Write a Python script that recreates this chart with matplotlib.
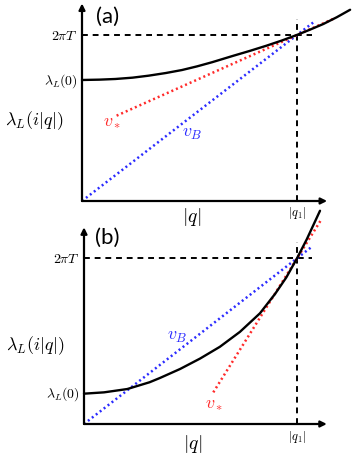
import matplotlib
matplotlib.use("Agg")
import matplotlib.pyplot as plt

plt.rcParams['mathtext.fontset'] = 'cm'

# ---------------- data (units: q1 = 1, 2*pi*T = 1) ----------------
# panel (a)
curve_a_q   = [0.0, 0.08, 0.155, 0.235, 0.310, 0.390, 0.465, 0.535, 0.605, 0.704,
               0.780, 0.859, 0.930, 0.999, 1.060, 1.122, 1.185, 1.247]
curve_a_lam = [0.729, 0.731, 0.735, 0.743, 0.755, 0.771, 0.789, 0.811, 0.836, 0.875,
               0.904, 0.936, 0.967, 1.0, 1.032, 1.066, 1.107, 1.152]
vstar_a_q   = [0.161, 1.170]
vstar_a_lam = [0.514, 1.098]
vB_a_q      = [0.0, 1.076]
vB_a_lam    = [0.0, 1.076]
lam0_a = 0.729

# panel (b)
curve_b_q   = [0.0, 0.094, 0.203, 0.308, 0.357, 0.451, 0.545, 0.638, 0.732, 0.826,
               0.897, 0.950, 1.0, 1.046, 1.108]
curve_b_lam = [0.183, 0.191, 0.211, 0.252, 0.278, 0.332, 0.395, 0.466, 0.556, 0.668,
               0.785, 0.885, 1.0, 1.115, 1.287]
vstar_b_q   = [0.607, 1.117]
vstar_b_lam = [0.191, 1.240]
vB_b_q      = [0.0, 1.070]
vB_b_lam    = [0.0, 1.070]
lam0_b = 0.187

q1 = 1.0
twopiT = 1.0
y_labels = [r'$2\pi T$', r'$\lambda_L(0)$']

W, H = 353, 456
fig = plt.figure(figsize=(W / 100, H / 100), dpi=100)
fig.patch.set_facecolor('white')

RED = '#ff2a2a'
BLUE = '#2b2bff'


def add_panel(ox, oy, sx, sy, xlim=(-0.02, 1.3), ylim=(-0.02, 1.3)):
    left = (ox + xlim[0] * sx) / W
    width = (xlim[1] - xlim[0]) * sx / W
    top_px = oy - ylim[1] * sy
    bottom_px = oy - ylim[0] * sy
    ax = fig.add_axes([left, 1 - bottom_px / H, width, (bottom_px - top_px) / H])
    ax.set_xlim(xlim)
    ax.set_ylim(ylim)
    ax.axis('off')
    return ax


def draw_panel(ax, cq, cl, vsq, vsl, vbq, vbl, lam0, xend, yend, hend, vend):
    # axes arrows
    ax.annotate('', xy=(xend, 0), xytext=(0, 0),
                arrowprops=dict(arrowstyle='-|>', lw=1.6, color='black',
                                mutation_scale=9, shrinkA=0, shrinkB=0),
                annotation_clip=False)
    ax.annotate('', xy=(0, yend), xytext=(0, 0),
                arrowprops=dict(arrowstyle='-|>', lw=1.6, color='black',
                                mutation_scale=9, shrinkA=0, shrinkB=0),
                annotation_clip=False)
    # dashed guides
    ax.plot([0, hend], [twopiT, twopiT], color='black', lw=1.4,
            linestyle=(0, (3, 2.5)), clip_on=False)
    ax.plot([q1, q1], [0, vend], color='black', lw=1.4,
            linestyle=(0, (3, 2.5)), clip_on=False)
    # dotted lines
    ax.plot(vbq, vbl, color=BLUE, lw=1.8, linestyle=(0, (0.8, 1.2)), clip_on=False)
    ax.plot(vsq, vsl, color=RED, lw=1.8, linestyle=(0, (0.8, 1.2)), clip_on=False)
    # curve
    ax.plot(cq, cl, color='black', lw=1.7, clip_on=False,
            solid_capstyle='round', solid_joinstyle='round')


def ftext(x, y, s, **kw):
    fig.text(x / W, 1 - y / H, s, **kw)


# panel (a)
axa = add_panel(82, 202, 215, 166)
draw_panel(axa, curve_a_q, curve_a_lam, vstar_a_q, vstar_a_lam, vB_a_q, vB_a_lam,
           lam0_a, 1.14, 1.19, 1.07, 1.096)

# panel (b)
axb = add_panel(84, 425, 213, 165.7)
draw_panel(axb, curve_b_q, curve_b_lam, vstar_b_q, vstar_b_lam, vB_b_q, vB_b_lam,
           lam0_b, 1.14, 1.187, 1.07, 1.098)

for ax, lam0 in [(axa, lam0_a), (axb, lam0_b)]:
    ax.text(-0.02, twopiT, y_labels[0], ha='right', va='center', fontsize=10)
    ax.text(-0.02, lam0, y_labels[1], ha='right', va='center', fontsize=10)

ftext(108, 17, '(a)', fontsize=16, family='Lato', ha='center', va='center')
ftext(107, 238, '(b)', fontsize=16, family='Lato', ha='center', va='center')

ftext(34, 121, r'$\lambda_L(i|q|)$', fontsize=13, ha='center', va='center')
ftext(35, 346, r'$\lambda_L(i|q|)$', fontsize=13, ha='center', va='center')

ftext(192, 217, r'$|q|$', fontsize=14, ha='center', va='center')
ftext(193, 444, r'$|q|$', fontsize=14, ha='center', va='center')

ftext(297, 213, r'$|q_1|$', fontsize=9, ha='center', va='center')
ftext(297, 437, r'$|q_1|$', fontsize=9, ha='center', va='center')

ftext(112, 121, r'$v_*$', fontsize=13, color=RED, ha='center', va='center')
ftext(214, 403, r'$v_*$', fontsize=13, color=RED, ha='center', va='center')
ftext(192, 133, r'$v_B$', fontsize=13, color=BLUE, ha='center', va='center')
ftext(177, 336, r'$v_B$', fontsize=13, color=BLUE, ha='center', va='center')

fig.savefig('out.png', dpi=100, facecolor='white')
